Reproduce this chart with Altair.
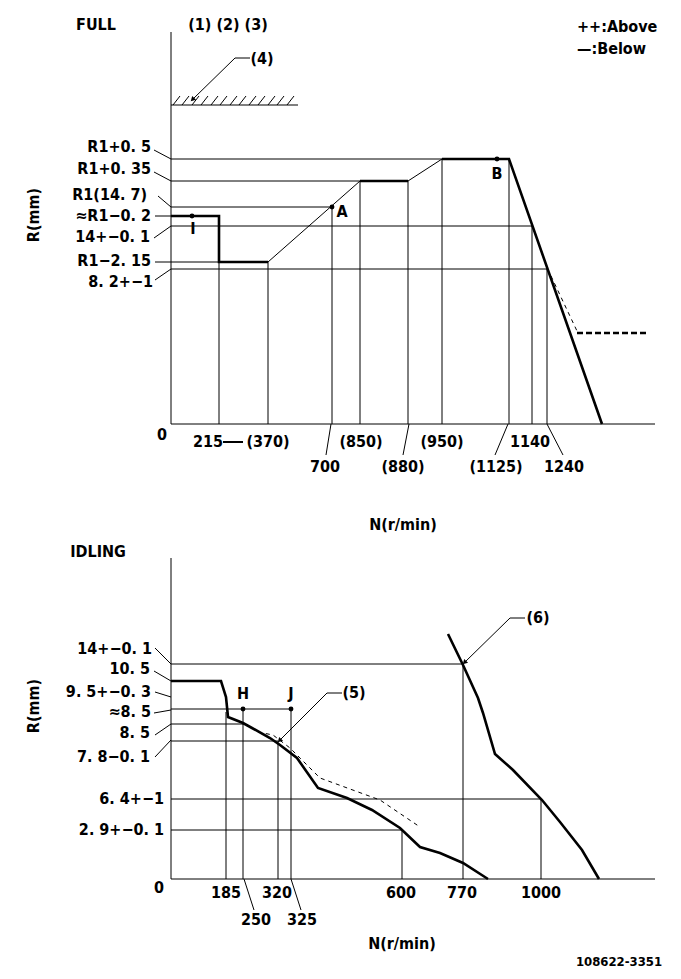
import altair as alt
import pandas as pd

FONT = "DejaVu Sans Condensed, Liberation Sans Narrow, sans-serif"

# ---------------- drawing data (schematic drawing units) ----------------
# thin straight segments: x1, y1, x2, y2
thin_segments = [
    # FULL panel axes
    (171, 32, 171, 424), (171, 424, 655, 424),
    # stopper line (4)
    (171, 105, 298, 105),
    (193, 99, 235, 58), (235, 58, 250, 58),
    # FULL horizontal reference lines
    (171, 159, 442, 159), (171, 181, 360, 181), (171, 207, 332, 207),
    (171, 226, 532, 226), (171, 269, 547, 269), (171, 262, 219, 262),
    # FULL label leaders
    (154, 150, 171, 159), (154, 172, 171, 181), (158, 196, 171, 207),
    (155, 216, 171, 216), (154, 238, 171, 226), (155, 262, 171, 262),
    (155, 280, 171, 269),
    # FULL vertical reference lines
    (219, 262, 219, 424), (268, 262, 268, 424), (332, 207, 332, 424),
    (360, 181, 360, 424), (408, 181, 408, 424), (442, 159, 442, 424),
    (509, 159, 509, 424), (532, 226, 532, 424), (547, 269, 547, 424),
    # FULL ramps
    (268, 262, 360, 181), (408, 181, 442, 159),
    # FULL x label leaders
    (331, 424, 326, 455), (409, 424, 403, 455), (508, 424, 495, 455),
    (547, 424, 563, 455),
    # IDLING axes
    (171, 558, 171, 879), (171, 879, 655, 879),
    # IDLING horizontal reference lines
    (171, 664, 463, 664), (171, 709, 291, 709), (171, 724, 245, 724),
    (171, 741, 278, 741), (171, 799, 541, 799), (171, 830, 402, 830),
    # IDLING label leaders
    (155, 648, 171, 664), (154, 671, 171, 681), (155, 692, 171, 697),
    (154, 713, 171, 710), (155, 735, 171, 724), (155, 757, 171, 740),
    # IDLING vertical reference lines
    (226, 712, 226, 879), (243, 709, 243, 879), (278, 741, 278, 879),
    (291, 709, 291, 879), (402, 830, 402, 879), (463, 664, 463, 879),
    (541, 799, 541, 879),
    # IDLING x label leaders
    (244, 879, 254, 910), (291, 879, 301, 910),
    # (5) and (6) leaders
    (280, 740, 327, 693), (327, 693, 342, 693),
    (465, 662, 510, 618), (510, 618, 525, 618),
]

# hatch marks above the stopper line
hatch_x = [173, 182, 192, 201, 211, 220, 230, 239, 249, 258, 268, 277, 287]

# dash between "215" and "(370)"
dash_segments = [(223, 442, 243, 442)]

# thick characteristic curves
full_curve_1 = [(171, 216), (219, 216), (219, 262), (268, 262)]
full_curve_2 = [(360, 181), (408, 181)]
full_curve_3 = [(442, 159), (509, 159), (602, 424)]
idle_curve = [(171, 681), (221, 681), (226, 697), (228, 717), (243, 723),
              (252, 728), (270, 738), (280, 745), (297, 758), (318, 788),
              (347, 798), (372, 810), (400, 828), (420, 847), (440, 853),
              (463, 863), (488, 879)]
limit_curve = [(448, 634), (463, 665), (478, 698), (483, 713), (495, 754),
               (513, 770), (542, 800), (560, 822), (582, 850), (599, 879)]

# dashed curves
full_dash_thin = [(551, 276), (577, 331)]
full_dash_thick = [(577, 333), (648, 333)]
idle_dash = [(258, 732), (273, 735), (290, 748), (320, 778), (380, 800),
             (420, 827)]

# measuring points
point_xy = [(192, 216), (332, 207), (497, 159), (243, 709), (291, 709)]

# arrow heads (x, y, angle)
arrow_heads = [(193, 99, 225), (280, 740, 225), (465, 662, 225)]

# ---------------- text ----------------
right_labels = [
    ("R1+0. 5", 151, 147), ("R1+0. 35", 151, 169), ("R1(14. 7)", 147, 195),
    ("≈R1−0. 2", 151, 216), ("14+−0. 1", 150, 237), ("R1−2. 15", 151, 261),
    ("8. 2+−1", 153, 282),
    ("14+−0. 1", 152, 649), ("10. 5", 150, 669), ("9. 5+−0. 3", 151, 692),
    ("≈8. 5", 151, 712), ("8. 5", 150, 733), ("7. 8−0. 1", 150, 757),
    ("6. 4+−1", 164, 799), ("2. 9+−0. 1", 164, 830),
]
center_labels = [
    ("FULL", 96, 25), ("(1) (2) (3)", 228, 25), ("(4)", 262, 59),
    ("I", 193, 229), ("A", 342, 212), ("B", 497, 174),
    ("0", 162, 435), ("215", 208, 442), ("(370)", 268, 442),
    ("700", 325, 467), ("(850)", 361, 442), ("(880)", 403, 467),
    ("(950)", 442, 442), ("(1125)", 496, 467), ("1140", 530, 442),
    ("1240", 564, 467), ("N(r/min)", 403, 525),
    ("IDLING", 98, 552), ("H", 243, 694), ("J", 291, 694),
    ("(5)", 354, 693), ("(6)", 538, 618),
    ("0", 159, 888), ("185", 226, 893), ("320", 277, 893),
    ("250", 256, 920), ("325", 302, 920), ("600", 401, 893),
    ("770", 462, 893), ("1000", 541, 893), ("N(r/min)", 402, 944),
]
left_labels = [("++:Above", 577, 27), ("—:Below", 577, 49)]
small_labels = [("108622-3351", 619, 962)]
rotated_labels = [("R(mm)", 34, 215), ("R(mm)", 34, 706)]

# ---------------- build tables ----------------
segs = [dict(x=a, y=b, x2=c, y2=d) for a, b, c, d in thin_segments]
segs += [dict(x=h, y=105, x2=h + 7, y2=96) for h in hatch_x]
seg_df = pd.DataFrame(segs)
dash_df = pd.DataFrame([dict(x=a, y=b, x2=c, y2=d) for a, b, c, d in dash_segments])


def poly(curves):
    rows = []
    for cid, pts in curves.items():
        for i, (px, py) in enumerate(pts):
            rows.append(dict(cid=cid, o=i, x=px, y=py))
    return pd.DataFrame(rows)


thick_df = poly({"f1": full_curve_1, "f2": full_curve_2, "f3": full_curve_3,
                 "idle": idle_curve, "limit": limit_curve})
dash_thin_df = poly({"fd": full_dash_thin, "id": idle_dash})
dash_thick_df = poly({"fdt": full_dash_thick})
pt_df = pd.DataFrame([dict(x=a, y=b) for a, b in point_xy])
arr_df = pd.DataFrame([dict(x=a, y=b, ang=c) for a, b, c in arrow_heads])


def tdf(lst):
    return pd.DataFrame([dict(t=t, x=a, y=b) for t, a, b in lst])


X = alt.X("x:Q", scale=alt.Scale(domain=[8, 673]), axis=None)
Y = alt.Y("y:Q", scale=alt.Scale(domain=[8, 971], reverse=True), axis=None)
X2 = alt.X2("x2:Q")
Y2 = alt.Y2("y2:Q")

FS = 16
layers = [
    alt.Chart(seg_df).mark_rule(color="black", strokeWidth=1).encode(x=X, y=Y, x2=X2, y2=Y2),
    alt.Chart(dash_df).mark_rule(color="black", strokeWidth=2).encode(x=X, y=Y, x2=X2, y2=Y2),
    alt.Chart(thick_df).mark_line(color="black", strokeWidth=2.6, strokeJoin="miter").encode(
        x=X, y=Y, detail="cid:N", order="o:Q"),
    alt.Chart(dash_thin_df).mark_line(color="black", strokeWidth=1, strokeDash=[4, 4]).encode(
        x=X, y=Y, detail="cid:N", order="o:Q"),
    alt.Chart(dash_thick_df).mark_line(color="black", strokeWidth=2.6, strokeDash=[6, 3]).encode(
        x=X, y=Y, detail="cid:N", order="o:Q"),
    alt.Chart(pt_df).mark_circle(color="black", size=24, opacity=1).encode(x=X, y=Y),
    alt.Chart(arr_df).mark_point(shape="triangle", filled=True, color="black", size=30, opacity=1).encode(
        x=X, y=Y, angle=alt.Angle("ang:Q", scale=None)),
    alt.Chart(tdf(right_labels)).mark_text(align="right", baseline="middle", font=FONT,
                                           fontSize=FS, fontWeight="bold", color="black").encode(
        x=X, y=Y, text="t:N"),
    alt.Chart(tdf(center_labels)).mark_text(align="center", baseline="middle", font=FONT,
                                            fontSize=FS, fontWeight="bold", color="black").encode(
        x=X, y=Y, text="t:N"),
    alt.Chart(tdf(left_labels)).mark_text(align="left", baseline="middle", font=FONT,
                                          fontSize=FS, fontWeight="bold", color="black").encode(
        x=X, y=Y, text="t:N"),
    alt.Chart(tdf(small_labels)).mark_text(align="center", baseline="middle", font=FONT,
                                           fontSize=13, fontWeight="bold", color="black").encode(
        x=X, y=Y, text="t:N"),
    alt.Chart(tdf(rotated_labels)).mark_text(align="center", baseline="middle", font=FONT,
                                             fontSize=FS, fontWeight="bold", color="black",
                                             angle=270).encode(x=X, y=Y, text="t:N"),
]

chart = alt.layer(*layers).properties(
    width=665, height=963, autosize=alt.AutoSizeParams(type="none"), padding=0,
    background="white"
).configure_view(stroke=None)

chart.save("out.html", embed_options={"renderer": "svg", "actions": False})
